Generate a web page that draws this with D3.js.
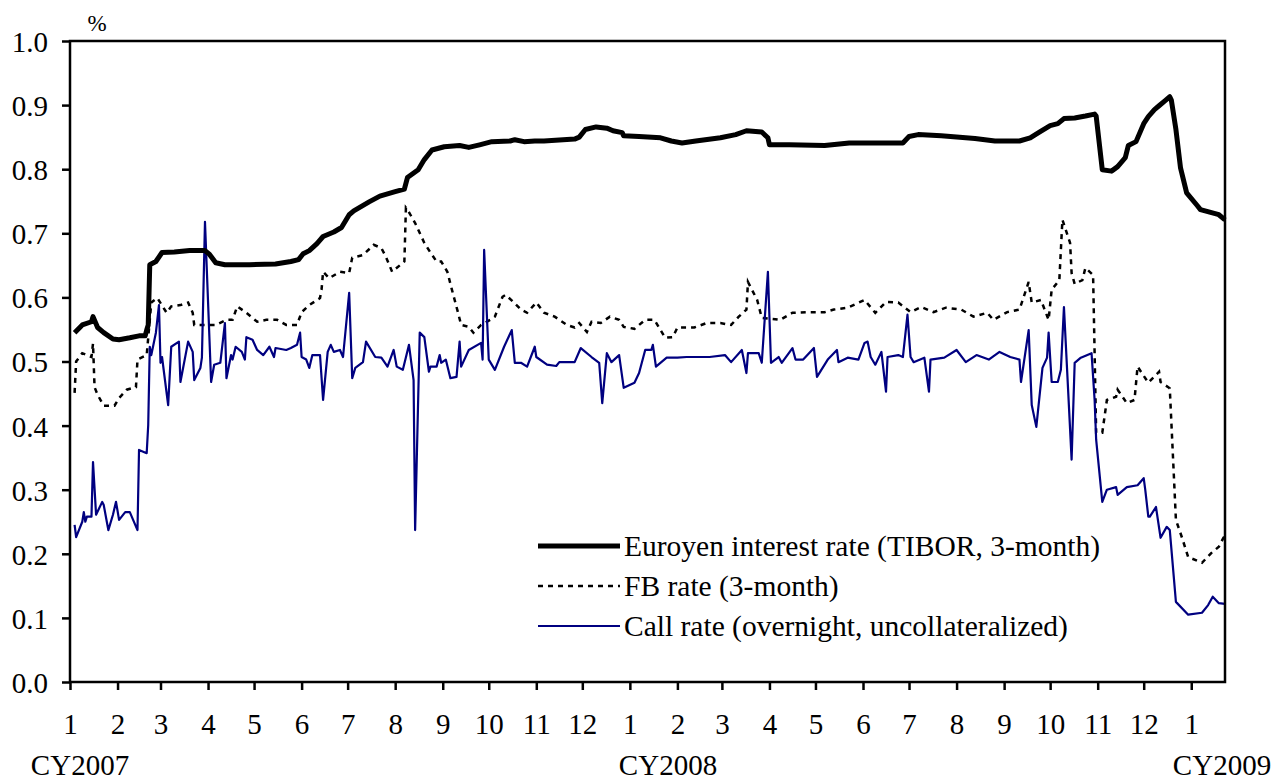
<!DOCTYPE html>
<html>
<head>
<meta charset="utf-8">
<script src="https://cdn.jsdelivr.net/npm/d3@7"></script>
<style>
  body { margin: 0; background: #fff; }
  svg { display: block; }
  text { font-family: "Liberation Serif", "Times New Roman", serif; fill: #000; }
</style>
</head>
<body>
<div id="chart"></div>
<script>
// series: [date, %]
var tibor = [
  ['2007-01-04', 0.545], ['2007-01-09', 0.557], ['2007-01-15', 0.562], ['2007-01-16', 0.570],
  ['2007-01-19', 0.553], ['2007-01-23', 0.545], ['2007-01-29', 0.535], ['2007-02-02', 0.534],
  ['2007-02-09', 0.537], ['2007-02-15', 0.540], ['2007-02-19', 0.540], ['2007-02-20', 0.549],
  ['2007-02-21', 0.557], ['2007-02-22', 0.651], ['2007-02-26', 0.656], ['2007-03-02', 0.670],
  ['2007-03-10', 0.671], ['2007-03-20', 0.673], ['2007-03-30', 0.673], ['2007-04-02', 0.667],
  ['2007-04-06', 0.654], ['2007-04-12', 0.651], ['2007-04-28', 0.651], ['2007-05-15', 0.652],
  ['2007-05-25', 0.656], ['2007-05-30', 0.659], ['2007-06-02', 0.668], ['2007-06-06', 0.673],
  ['2007-06-11', 0.684], ['2007-06-15', 0.695], ['2007-06-22', 0.702], ['2007-06-27', 0.709],
  ['2007-07-02', 0.729], ['2007-07-05', 0.735], ['2007-07-15', 0.749], ['2007-07-22', 0.758],
  ['2007-08-01', 0.765], ['2007-08-07', 0.769], ['2007-08-09', 0.787], ['2007-08-16', 0.799],
  ['2007-08-20', 0.815], ['2007-08-25', 0.830], ['2007-09-02', 0.835], ['2007-09-12', 0.837],
  ['2007-09-18', 0.834], ['2007-09-25', 0.838], ['2007-10-03', 0.843], ['2007-10-15', 0.844],
  ['2007-10-18', 0.846], ['2007-10-24', 0.843], ['2007-10-31', 0.844], ['2007-11-06', 0.844],
  ['2007-11-26', 0.847], ['2007-11-29', 0.850], ['2007-12-03', 0.862], ['2007-12-10', 0.866],
  ['2007-12-17', 0.864], ['2007-12-21', 0.860], ['2007-12-27', 0.857], ['2007-12-28', 0.852],
  ['2008-01-07', 0.851], ['2008-01-21', 0.849], ['2008-01-28', 0.844], ['2008-02-04', 0.841],
  ['2008-02-13', 0.844], ['2008-02-29', 0.849], ['2008-03-10', 0.854], ['2008-03-17', 0.860],
  ['2008-03-27', 0.858], ['2008-03-31', 0.849], ['2008-04-01', 0.838], ['2008-04-14', 0.838],
  ['2008-05-07', 0.837], ['2008-05-23', 0.841], ['2008-06-27', 0.841], ['2008-07-01', 0.851],
  ['2008-07-07', 0.854], ['2008-07-22', 0.852], ['2008-08-13', 0.848], ['2008-08-26', 0.844],
  ['2008-09-11', 0.844], ['2008-09-18', 0.849], ['2008-09-24', 0.858], ['2008-10-01', 0.868],
  ['2008-10-06', 0.871], ['2008-10-10', 0.879], ['2008-10-17', 0.880], ['2008-10-24', 0.883],
  ['2008-10-30', 0.886], ['2008-10-31', 0.883], ['2008-11-04', 0.799], ['2008-11-10', 0.797],
  ['2008-11-14', 0.804], ['2008-11-19', 0.818], ['2008-11-21', 0.837], ['2008-11-26', 0.843],
  ['2008-12-01', 0.871], ['2008-12-04', 0.882], ['2008-12-08', 0.893], ['2008-12-11', 0.899],
  ['2008-12-15', 0.907], ['2008-12-18', 0.913], ['2008-12-19', 0.908], ['2008-12-22', 0.862],
  ['2008-12-25', 0.802], ['2008-12-29', 0.763], ['2009-01-05', 0.743], ['2009-01-07', 0.737],
  ['2009-01-13', 0.733], ['2009-01-19', 0.729], ['2009-01-23', 0.721]
];

var fbRate = [
  ['2007-01-04', 0.451], ['2007-01-05', 0.500], ['2007-01-09', 0.513], ['2007-01-15', 0.507],
  ['2007-01-16', 0.528], ['2007-01-17', 0.460], ['2007-01-19', 0.448], ['2007-01-23', 0.431],
  ['2007-01-30', 0.431], ['2007-02-02', 0.443], ['2007-02-07', 0.456], ['2007-02-13', 0.460],
  ['2007-02-14', 0.503], ['2007-02-20', 0.510], ['2007-02-23', 0.592], ['2007-02-27', 0.599],
  ['2007-03-05', 0.576], ['2007-03-08', 0.586], ['2007-03-14', 0.588], ['2007-03-19', 0.592],
  ['2007-03-22', 0.576], ['2007-03-23', 0.557], ['2007-03-30', 0.557], ['2007-04-06', 0.557],
  ['2007-04-13', 0.565], ['2007-04-17', 0.565], ['2007-04-20', 0.586], ['2007-04-26', 0.576],
  ['2007-05-03', 0.562], ['2007-05-09', 0.565], ['2007-05-16', 0.565], ['2007-05-22', 0.557],
  ['2007-05-29', 0.557], ['2007-06-01', 0.577], ['2007-06-06', 0.588], ['2007-06-13', 0.599],
  ['2007-06-14', 0.612], ['2007-06-15', 0.640], ['2007-06-19', 0.630], ['2007-06-26', 0.640],
  ['2007-07-02', 0.638], ['2007-07-04', 0.662], ['2007-07-11', 0.666], ['2007-07-18', 0.682],
  ['2007-07-23', 0.677], ['2007-07-26', 0.663], ['2007-07-30', 0.640], ['2007-08-07', 0.656],
  ['2007-08-08', 0.740], ['2007-08-09', 0.737], ['2007-08-14', 0.716], ['2007-08-20', 0.685],
  ['2007-08-24', 0.670], ['2007-08-28', 0.656], ['2007-08-31', 0.656], ['2007-09-04', 0.640],
  ['2007-09-07', 0.612], ['2007-09-11', 0.576], ['2007-09-13', 0.557], ['2007-09-18', 0.554],
  ['2007-09-21', 0.545], ['2007-09-26', 0.557], ['2007-10-02', 0.565], ['2007-10-05', 0.570],
  ['2007-10-10', 0.601], ['2007-10-12', 0.604], ['2007-10-17', 0.593], ['2007-10-22', 0.581],
  ['2007-10-26', 0.576], ['2007-11-01', 0.592], ['2007-11-06', 0.576], ['2007-11-13', 0.570],
  ['2007-11-21', 0.557], ['2007-11-26', 0.553], ['2007-11-29', 0.560], ['2007-12-04', 0.546],
  ['2007-12-07', 0.562], ['2007-12-13', 0.560], ['2007-12-19', 0.570], ['2007-12-25', 0.565],
  ['2007-12-28', 0.554], ['2008-01-04', 0.551], ['2008-01-11', 0.565], ['2008-01-17', 0.565],
  ['2008-01-24', 0.537], ['2008-01-29', 0.538], ['2008-02-01', 0.553], ['2008-02-12', 0.553],
  ['2008-02-20', 0.560], ['2008-02-29', 0.560], ['2008-03-07', 0.557], ['2008-03-12', 0.570],
  ['2008-03-17', 0.581], ['2008-03-18', 0.624], ['2008-03-24', 0.596], ['2008-03-27', 0.568],
  ['2008-04-08', 0.565], ['2008-04-16', 0.576], ['2008-04-25', 0.577], ['2008-05-07', 0.577],
  ['2008-05-13', 0.581], ['2008-05-22', 0.584], ['2008-06-02', 0.596], ['2008-06-09', 0.576],
  ['2008-06-16', 0.593], ['2008-06-24', 0.592], ['2008-07-02', 0.577], ['2008-07-09', 0.585],
  ['2008-07-17', 0.577], ['2008-07-25', 0.584], ['2008-08-04', 0.581], ['2008-08-12', 0.570],
  ['2008-08-21', 0.576], ['2008-08-25', 0.565], ['2008-09-03', 0.577], ['2008-09-11', 0.581],
  ['2008-09-17', 0.624], ['2008-09-19', 0.592], ['2008-09-25', 0.596], ['2008-09-30', 0.565],
  ['2008-10-02', 0.612], ['2008-10-07', 0.627], ['2008-10-09', 0.721], ['2008-10-14', 0.685],
  ['2008-10-15', 0.638], ['2008-10-17', 0.621], ['2008-10-22', 0.627], ['2008-10-24', 0.646],
  ['2008-10-29', 0.635], ['2008-10-31', 0.389], ['2008-11-04', 0.389], ['2008-11-07', 0.440],
  ['2008-11-13', 0.445], ['2008-11-14', 0.456], ['2008-11-20', 0.435], ['2008-11-25', 0.440],
  ['2008-11-27', 0.492], ['2008-12-04', 0.467], ['2008-12-11', 0.484], ['2008-12-12', 0.468],
  ['2008-12-17', 0.460], ['2008-12-18', 0.458], ['2008-12-22', 0.253], ['2008-12-26', 0.225],
  ['2008-12-30', 0.195], ['2009-01-08', 0.186], ['2009-01-14', 0.201], ['2009-01-19', 0.211],
  ['2009-01-22', 0.225], ['2009-01-23', 0.228]
];

var callRate = [
  ['2007-01-04', 0.245], ['2007-01-05', 0.226], ['2007-01-09', 0.250], ['2007-01-10', 0.265],
  ['2007-01-11', 0.250], ['2007-01-12', 0.258], ['2007-01-15', 0.258], ['2007-01-16', 0.343],
  ['2007-01-18', 0.261], ['2007-01-22', 0.281], ['2007-01-23', 0.276], ['2007-01-25', 0.250],
  ['2007-01-26', 0.237], ['2007-01-29', 0.261], ['2007-01-31', 0.281], ['2007-02-02', 0.253],
  ['2007-02-06', 0.265], ['2007-02-09', 0.265], ['2007-02-14', 0.237], ['2007-02-15', 0.362],
  ['2007-02-20', 0.357], ['2007-02-21', 0.401], ['2007-02-22', 0.523], ['2007-02-23', 0.510],
  ['2007-02-26', 0.545], ['2007-02-28', 0.588], ['2007-03-01', 0.498], ['2007-03-02', 0.507],
  ['2007-03-06', 0.432], ['2007-03-08', 0.523], ['2007-03-13', 0.531], ['2007-03-14', 0.468],
  ['2007-03-19', 0.531], ['2007-03-22', 0.515], ['2007-03-23', 0.471], ['2007-03-27', 0.490],
  ['2007-03-28', 0.506], ['2007-03-30', 0.718], ['2007-04-03', 0.468], ['2007-04-05', 0.495],
  ['2007-04-09', 0.498], ['2007-04-12', 0.560], ['2007-04-13', 0.474], ['2007-04-16', 0.510],
  ['2007-04-17', 0.503], ['2007-04-19', 0.523], ['2007-04-23', 0.515], ['2007-04-25', 0.503],
  ['2007-04-26', 0.538], ['2007-04-30', 0.534], ['2007-05-03', 0.518], ['2007-05-07', 0.510],
  ['2007-05-11', 0.523], ['2007-05-14', 0.507], ['2007-05-15', 0.521], ['2007-05-22', 0.518],
  ['2007-05-25', 0.521], ['2007-05-29', 0.526], ['2007-05-31', 0.545], ['2007-06-01', 0.507],
  ['2007-06-04', 0.503], ['2007-06-06', 0.490], ['2007-06-08', 0.510], ['2007-06-13', 0.510],
  ['2007-06-15', 0.440], ['2007-06-18', 0.515], ['2007-06-20', 0.526], ['2007-06-22', 0.515],
  ['2007-06-26', 0.518], ['2007-06-28', 0.507], ['2007-07-02', 0.607], ['2007-07-04', 0.474],
  ['2007-07-06', 0.490], ['2007-07-11', 0.499], ['2007-07-13', 0.531], ['2007-07-19', 0.507],
  ['2007-07-23', 0.506], ['2007-07-25', 0.499], ['2007-07-27', 0.492], ['2007-07-31', 0.518],
  ['2007-08-02', 0.492], ['2007-08-06', 0.487], ['2007-08-10', 0.526], ['2007-08-13', 0.471],
  ['2007-08-14', 0.237], ['2007-08-17', 0.545], ['2007-08-20', 0.538], ['2007-08-23', 0.484],
  ['2007-08-24', 0.492], ['2007-08-28', 0.492], ['2007-08-30', 0.510], ['2007-08-31', 0.498],
  ['2007-09-03', 0.503], ['2007-09-06', 0.474], ['2007-09-10', 0.476], ['2007-09-12', 0.531],
  ['2007-09-13', 0.492], ['2007-09-18', 0.518], ['2007-09-26', 0.529], ['2007-09-27', 0.503],
  ['2007-09-28', 0.674], ['2007-10-01', 0.503], ['2007-10-05', 0.487], ['2007-10-11', 0.523],
  ['2007-10-16', 0.549], ['2007-10-18', 0.498], ['2007-10-22', 0.498], ['2007-10-26', 0.492],
  ['2007-10-31', 0.523], ['2007-11-01', 0.507], ['2007-11-08', 0.495], ['2007-11-14', 0.493],
  ['2007-11-16', 0.499], ['2007-11-26', 0.499], ['2007-11-30', 0.521], ['2007-12-07', 0.507],
  ['2007-12-12', 0.498], ['2007-12-14', 0.435], ['2007-12-17', 0.513], ['2007-12-20', 0.499],
  ['2007-12-25', 0.510], ['2007-12-28', 0.459], ['2008-01-04', 0.467], ['2008-01-07', 0.482],
  ['2008-01-11', 0.518], ['2008-01-15', 0.518], ['2008-01-16', 0.526], ['2008-01-18', 0.492],
  ['2008-01-25', 0.506], ['2008-02-01', 0.506], ['2008-02-07', 0.507], ['2008-02-14', 0.507],
  ['2008-02-22', 0.507], ['2008-03-03', 0.510], ['2008-03-07', 0.499], ['2008-03-14', 0.518],
  ['2008-03-17', 0.482], ['2008-03-18', 0.513], ['2008-03-25', 0.513], ['2008-03-27', 0.498],
  ['2008-03-31', 0.640], ['2008-04-02', 0.498], ['2008-04-07', 0.507], ['2008-04-09', 0.498],
  ['2008-04-16', 0.521], ['2008-04-18', 0.503], ['2008-04-23', 0.503], ['2008-04-30', 0.521],
  ['2008-05-02', 0.476], ['2008-05-09', 0.503], ['2008-05-15', 0.518], ['2008-05-16', 0.499],
  ['2008-05-22', 0.506], ['2008-05-29', 0.503], ['2008-06-02', 0.529], ['2008-06-04', 0.531],
  ['2008-06-06', 0.507], ['2008-06-09', 0.495], ['2008-06-13', 0.515], ['2008-06-16', 0.453],
  ['2008-06-17', 0.507], ['2008-06-24', 0.510], ['2008-06-27', 0.507], ['2008-06-30', 0.573],
  ['2008-07-02', 0.507], ['2008-07-04', 0.499], ['2008-07-11', 0.506], ['2008-07-14', 0.453],
  ['2008-07-15', 0.503], ['2008-07-24', 0.506], ['2008-08-01', 0.518], ['2008-08-07', 0.499],
  ['2008-08-14', 0.510], ['2008-08-22', 0.503], ['2008-08-29', 0.515], ['2008-09-05', 0.507],
  ['2008-09-11', 0.503], ['2008-09-12', 0.468], ['2008-09-17', 0.549], ['2008-09-19', 0.432],
  ['2008-09-22', 0.398], ['2008-09-26', 0.490], ['2008-09-29', 0.506], ['2008-09-30', 0.545],
  ['2008-10-02', 0.468], ['2008-10-06', 0.468], ['2008-10-08', 0.487], ['2008-10-10', 0.585],
  ['2008-10-15', 0.347], ['2008-10-17', 0.498], ['2008-10-21', 0.506], ['2008-10-28', 0.513],
  ['2008-10-30', 0.440], ['2008-10-31', 0.378], ['2008-11-04', 0.281], ['2008-11-07', 0.300],
  ['2008-11-13', 0.304], ['2008-11-14', 0.292], ['2008-11-20', 0.304], ['2008-11-27', 0.307],
  ['2008-12-01', 0.318], ['2008-12-02', 0.300], ['2008-12-04', 0.258], ['2008-12-05', 0.258],
  ['2008-12-09', 0.273], ['2008-12-12', 0.225], ['2008-12-16', 0.242], ['2008-12-18', 0.237],
  ['2008-12-22', 0.125], ['2008-12-30', 0.105], ['2009-01-08', 0.108], ['2009-01-12', 0.120],
  ['2009-01-15', 0.133], ['2009-01-19', 0.123], ['2009-01-23', 0.122]
];

var monthTicks = ['2007-01', '2007-02', '2007-03', '2007-04', '2007-05', '2007-06', '2007-07',
  '2007-08', '2007-09', '2007-10', '2007-11', '2007-12', '2008-01', '2008-02', '2008-03',
  '2008-04', '2008-05', '2008-06', '2008-07', '2008-08', '2008-09', '2008-10', '2008-11',
  '2008-12', '2009-01'];
var yTicks = [0, 0.1, 0.2, 0.3, 0.4, 0.5, 0.6, 0.7, 0.8, 0.9, 1.0];
var yearLabels = ['CY2007', 'CY2008', 'CY2009'];
var seriesNames = ['Euroyen interest rate (TIBOR, 3-month)', 'FB rate (3-month)',
  'Call rate (overnight, uncollateralized)'];

var W = 1274, H = 782;
var mLeft = 70, mRight = 1225, mTop = 41, mBottom = 682;
var fontPx = 29;

var parseDay = d3.timeParse('%Y-%m-%d');
var parseMonth = d3.timeParse('%Y-%m');

var svg = d3.select('#chart').append('svg')
  .attr('width', W)
  .attr('height', H);

var x = d3.scaleTime()
  .domain([parseDay('2007-01-01'), parseDay('2009-01-23')])
  .range([mLeft, mRight]);

var y = d3.scaleLinear()
  .domain([0, 1])
  .range([mBottom, mTop]);

// lines
var line = d3.line()
  .x(function(d) { return x(parseDay(d[0])); })
  .y(function(d) { return y(d[1]); });

var plot = svg.append('g');

plot.append('path')
  .datum(fbRate)
  .attr('d', line)
  .attr('fill', 'none')
  .attr('stroke', '#000')
  .attr('stroke-width', 2.5)
  .attr('stroke-dasharray', '5,5');

plot.append('path')
  .datum(callRate)
  .attr('d', line)
  .attr('fill', 'none')
  .attr('stroke', '#000080')
  .attr('stroke-width', 2.2)
  .attr('stroke-linejoin', 'round');

plot.append('path')
  .datum(tibor)
  .attr('d', line)
  .attr('fill', 'none')
  .attr('stroke', '#000')
  .attr('stroke-width', 5)
  .attr('stroke-linejoin', 'round');

// frame
svg.append('rect')
  .attr('x', mLeft).attr('y', mTop)
  .attr('width', mRight - mLeft).attr('height', mBottom - mTop)
  .attr('fill', 'none').attr('stroke', '#000').attr('stroke-width', 2.5);

// y axis
var yAxis = d3.axisLeft(y)
  .tickValues(yTicks)
  .tickSize(8)
  .tickPadding(14)
  .tickFormat(d3.format('.1f'));

var gy = svg.append('g')
  .attr('transform', 'translate(' + mLeft + ',0)')
  .call(yAxis);
gy.select('.domain').remove();
gy.selectAll('line').attr('stroke', '#000').attr('stroke-width', 2.5);
gy.selectAll('text')
  .attr('font-size', fontPx + 'px')
  .attr('font-family', '"Liberation Serif", serif')
  .attr('dy', '0.36em');

// x axis
var xAxis = d3.axisBottom(x)
  .tickValues(monthTicks.map(parseMonth))
  .tickSize(8)
  .tickPadding(23)
  .tickFormat(function(d) { return d.getMonth() + 1; });

var gx = svg.append('g')
  .attr('transform', 'translate(0,' + mBottom + ')')
  .call(xAxis);
gx.select('.domain').remove();
gx.selectAll('line').attr('stroke', '#000').attr('stroke-width', 2.5);
gx.selectAll('text')
  .attr('font-size', fontPx + 'px')
  .attr('font-family', '"Liberation Serif", serif');

// year labels
var yearX = [80, 668, 1222];
svg.selectAll('.year')
  .data(yearLabels)
  .enter().append('text')
  .attr('class', 'year')
  .attr('x', function(d, i) { return yearX[i]; })
  .attr('y', 775)
  .attr('text-anchor', 'middle')
  .attr('font-size', fontPx + 'px')
  .text(function(d) { return d; });

svg.append('text')
  .attr('x', 97).attr('y', 31)
  .attr('text-anchor', 'middle')
  .attr('font-size', '23px')
  .text('%');

// legend
var legendStyles = [
  {stroke: '#000', width: 5, dash: null},
  {stroke: '#000', width: 2.5, dash: '5,5'},
  {stroke: '#000080', width: 2.2, dash: null}
];
var legendY = [546, 586, 626];

var lg = svg.append('g');
seriesNames.forEach(function(name, i) {
  var s = legendStyles[i];
  lg.append('line')
    .attr('x1', 538).attr('x2', 620)
    .attr('y1', legendY[i]).attr('y2', legendY[i])
    .attr('stroke', s.stroke)
    .attr('stroke-width', s.width)
    .attr('stroke-dasharray', s.dash);
  lg.append('text')
    .attr('x', 624)
    .attr('y', legendY[i] + 10)
    .attr('font-size', '29.5px')
    .text(name);
});
</script>
</body>
</html>
